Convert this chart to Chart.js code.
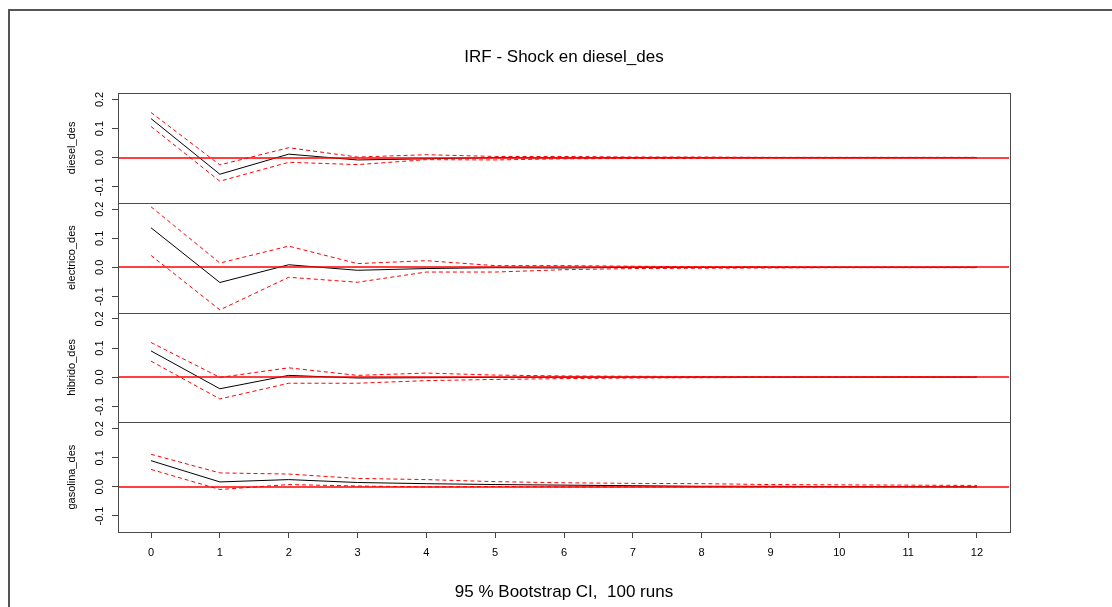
<!DOCTYPE html>
<html>
<head>
<meta charset="utf-8">
<title>IRF - Shock en diesel_des</title>
<script src="https://cdn.jsdelivr.net/npm/chart.js@4.4.1/dist/chart.umd.min.js"></script>
<style>
  body { margin: 0; background: #fff; }
  #wrap { position: relative; width: 1112px; height: 607px; overflow: hidden; }
  #frame { position: absolute; left: 8px; top: 9px; width: 1200px; height: 700px;
           border-left: 2px solid #555; border-top: 2px solid #555; }
  canvas { position: absolute; left: 0; top: 0; }
</style>
</head>
<body>
<div id="wrap">
  <div id="frame"></div>
  <canvas id="irfChart" width="1112" height="607"></canvas>
</div>
<script>
// horizon (x axis) and y tick values
const horizon = [0, 1, 2, 3, 4, 5, 6, 7, 8, 9, 10, 11, 12];
const yTicks = [-0.1, 0.0, 0.1, 0.2];
const zeroLevel = 0;

// response of diesel_des
const dieselIrf   = [0.134, -0.057, 0.012, -0.008, -0.004, 0.000, -0.001, 0.000, 0.000, 0.000, 0.000, 0.000, 0.000];
const dieselUpper = [0.155, -0.025, 0.034, 0.002, 0.010, 0.004, 0.004, 0.002, 0.002, 0.001, 0.001, 0.001, 0.001];
const dieselLower = [0.107, -0.081, -0.016, -0.024, -0.007, -0.008, -0.004, -0.003, -0.002, -0.001, -0.001, -0.001, 0.000];

// response of electrico_des
const electricoIrf   = [0.136, -0.052, 0.009, -0.010, -0.004, -0.001, -0.002, 0.000, 0.000, 0.000, 0.000, 0.000, 0.000];
const electricoUpper = [0.208, 0.015, 0.073, 0.013, 0.023, 0.006, 0.006, 0.004, 0.002, 0.002, 0.001, 0.001, 0.001];
const electricoLower = [0.041, -0.146, -0.034, -0.051, -0.016, -0.016, -0.008, -0.004, -0.003, -0.002, -0.001, -0.001, -0.001];

// response of hibrido_des
const hibridoIrf   = [0.090, -0.040, 0.006, -0.003, -0.002, -0.001, 0.000, 0.000, 0.000, 0.000, 0.000, 0.000, 0.000];
const hibridoUpper = [0.119, -0.001, 0.032, 0.006, 0.014, 0.007, 0.004, 0.003, 0.002, 0.001, 0.001, 0.001, 0.000];
const hibridoLower = [0.055, -0.075, -0.021, -0.021, -0.012, -0.008, -0.005, -0.003, -0.002, -0.001, -0.001, 0.000, 0.000];

// response of gasolina_des
const gasolinaIrf   = [0.090, 0.017, 0.025, 0.015, 0.011, 0.008, 0.006, 0.004, 0.002, 0.002, 0.001, 0.001, 0.000];
const gasolinaUpper = [0.112, 0.048, 0.044, 0.029, 0.025, 0.018, 0.014, 0.012, 0.011, 0.008, 0.007, 0.006, 0.005];
const gasolinaLower = [0.060, -0.009, 0.008, 0.003, 0.000, 0.001, 0.000, 0.000, 0.000, 0.000, 0.000, 0.000, 0.000];

const panels = [
    { name: 'diesel_des', irf: dieselIrf, upper: dieselUpper, lower: dieselLower },
    { name: 'electrico_des', irf: electricoIrf, upper: electricoUpper, lower: electricoLower },
    { name: 'hibrido_des', irf: hibridoIrf, upper: hibridoUpper, lower: hibridoLower },
    { name: 'gasolina_des', irf: gasolinaIrf, upper: gasolinaUpper, lower: gasolinaLower }
];

Chart.defaults.font.family = '"Liberation Sans", Arial, sans-serif';
Chart.defaults.color = '#000';

//box around each panel, then the red zero line (abline at 0)
const panelPlugin = {
    id: 'panelBox',
    afterDraw(chart) {
        const c = chart.ctx;
        const area = chart.chartArea;
        const left = Math.round(area.left) + 0.5;
        c.save();
        c.lineWidth = 1;
        c.setLineDash([]);
        c.strokeStyle = '#4a4a4a';
        panels.forEach((p, i) => {
            const s = chart.scales['y' + i];
            const top = Math.round(s.top) + 0.5;
            const bottom = Math.round(s.bottom) + 0.5;
            c.strokeRect(left, top, Math.round(area.right - area.left), bottom - top);
        });
        c.strokeStyle = '#ff0000';
        c.lineWidth = 1.5;
        panels.forEach((p, i) => {
            const y = Math.round(chart.scales['y' + i].getPixelForValue(zeroLevel));
            c.beginPath();
            c.moveTo(left + 0.5, y);
            c.lineTo(area.right - 1, y);
            c.stroke();
        });
        c.restore();
    }
};

const datasets = [];
const scales = {
    x: {
        type: 'linear',
        min: -0.48,
        max: 12.48,
        afterBuildTicks: s => { s.ticks = horizon.map(v => ({ value: v })); },
        afterFit: s => { s.height = 35; },
        border: { display: false },
        grid: { drawOnChartArea: false, tickLength: 6, color: '#444' },
        ticks: { autoSkip: false, maxRotation: 0, padding: 8, font: { size: 11 } }
    }
};

panels.forEach((p, i) => {
    const id = 'y' + i;
    scales[id] = {
        type: 'linear',
        position: 'left',
        stack: 'irf',
        stackWeight: 1,
        weight: panels.length - i,
        min: -0.155,
        max: 0.222,
        afterBuildTicks: s => { s.ticks = yTicks.map(v => ({ value: v })); },
        afterFit: s => { s.width = 118; },
        border: { display: false },
        grid: { drawOnChartArea: false, tickLength: 6, color: '#444' },
        ticks: {
            autoSkip: false,
            minRotation: 90,
            maxRotation: 90,
            crossAlign: 'center',
            padding: 3,
            font: { size: 11 },
            callback: v => v.toFixed(1)
        },
        title: { display: true, text: p.name, font: { size: 11 }, padding: { top: 65, bottom: 0 } }
    };
    datasets.push(
        { label: p.name, data: p.irf, yAxisID: id, order: 1, borderColor: '#000', borderWidth: 1 },
        { label: p.name + ' upper', data: p.upper, yAxisID: id, order: 0, borderColor: '#ff0000', borderWidth: 1, borderDash: [4, 3] },
        { label: p.name + ' lower', data: p.lower, yAxisID: id, order: 0, borderColor: '#ff0000', borderWidth: 1, borderDash: [4, 3] }
    );
});

const ctx = document.getElementById('irfChart').getContext('2d');
const irfChart = new Chart(ctx, {
    type: 'line',
    data: { labels: horizon, datasets: datasets },
    options: {
        responsive: false,
        animation: false,
        layout: { padding: { top: 0, left: 0, right: 102, bottom: 0 } },
        elements: {
            point: { radius: 0 },
            line: { tension: 0, fill: false }
        },
        scales: scales,
        plugins: {
            legend: { display: false },
            tooltip: { enabled: false },
            title: {
                display: true,
                fullSize: false,
                text: 'IRF - Shock en diesel_des',
                font: { size: 17, weight: 'normal' },
                padding: { top: 46.8, bottom: 25.8 }
            },
            subtitle: {
                display: true,
                position: 'bottom',
                fullSize: false,
                text: '95 % Bootstrap CI,  100 runs',
                font: { size: 17, weight: 'normal' },
                padding: { top: 14.8, bottom: 4.8 }
            }
        }
    },
    plugins: [panelPlugin]
});
</script>
</body>
</html>
